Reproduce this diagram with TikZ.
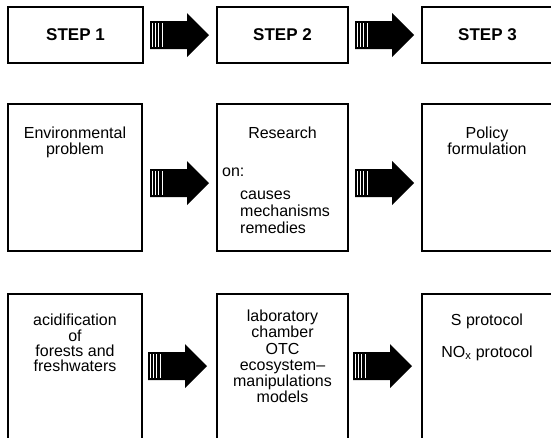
\documentclass[tikz,border=0pt]{standalone}
\usepackage{fontspec}
\setmainfont{Liberation Sans}
\begin{document}
\begin{tikzpicture}[x=1pt,y=-1pt,
  stepbox/.style={draw, line width=1.8pt, minimum width=135pt, minimum height=56pt, inner sep=0pt, font=\fontsize{17}{20}\selectfont\bfseries},
  bigbox/.style={draw, line width=1.1pt, minimum width=134pt, inner sep=0pt},
  txt/.style={anchor=base, inner sep=0pt, font=\fontsize{16}{18}\selectfont},
  ltxt/.style={txt, anchor=base west},
  fatarrow/.pic={
    \fill[black] (0,-14) -- (37,-14) -- (37,-22) -- (59,0) -- (37,22) -- (37,14) -- (0,14) -- cycle;
    \foreach \xx in {2.5,5.5,8.5,12} \draw[white, line width=0.5pt] (\xx,-12) -- (\xx,12);
  }]
\useasboundingbox (0,0) rectangle (551,437);
\clip (0,0) rectangle (551,437);
% row 1
\node[stepbox] (s1) at (75.5,35) {STEP 1};
\node[stepbox, minimum width=131pt] (s2) at (282.5,35) {STEP 2};
\node[stepbox, minimum width=131pt] (s3) at (487.5,35) {STEP 3};
\pic at (150,35) {fatarrow};
\pic at (355,35) {fatarrow};
% row 2
\node[bigbox, minimum height=147pt] (p1) at (75,177.5) {};
\node[bigbox, minimum height=147pt, minimum width=131pt] (p2) at (282.5,177.5) {};
\node[bigbox, minimum height=147pt, minimum width=131pt] (p3) at (487.5,177.5) {};
\node[txt] (p1a) at (75,138) {Environmental};
\node[txt] (p1b) at (75,154) {problem};
\node[txt] (p2a) at (282.5,138) {Research};
\node[ltxt] (p2b) at (222,176) {on:};
\node[ltxt] (p2c) at (240,199) {causes};
\node[ltxt] (p2d) at (240,216) {mechanisms};
\node[ltxt] (p2e) at (240,233) {remedies};
\node[txt] (p3a) at (487,138) {Policy};
\node[txt] (p3b) at (487,154) {formulation};
\pic at (150,183) {fatarrow};
\pic at (355,183) {fatarrow};
% row 3
\node[bigbox, minimum height=160pt] (a1) at (75,374) {};
\node[bigbox, minimum height=160pt, minimum width=131pt] (a2) at (282.5,374) {};
\node[bigbox, minimum height=160pt, minimum width=131pt] (a3) at (487.5,374) {};
\node[txt] (a1a) at (75,325) {acidification};
\node[txt] (a1b) at (75,341) {of};
\node[txt] (a1c) at (75,356) {forests and};
\node[txt] (a1d) at (75,371) {freshwaters};
\node[txt] (a2a) at (282.5,321) {laboratory};
\node[txt] (a2b) at (282.5,337) {chamber};
\node[txt] (a2c) at (282.5,354) {OTC};
\node[txt] (a2d) at (282.5,370) {ecosystem–};
\node[txt] (a2e) at (282.5,386) {manipulations};
\node[txt] (a2f) at (282.5,402) {models};
\node[txt] (a3a) at (487,325) {S protocol};
\node[txt] (a3b) at (487,357) {NO\textsubscript{x} protocol};
\pic at (148,366) {fatarrow};
\pic at (353,366) {fatarrow};
\end{tikzpicture}
\end{document}
